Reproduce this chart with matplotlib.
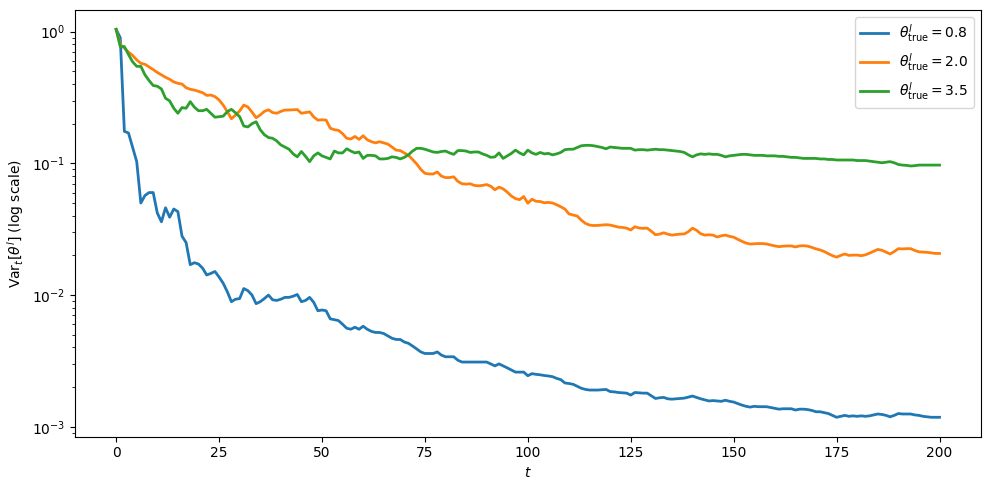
import numpy as np
from matplotlib import pyplot as plt

# 事後分散の推移 (log scale)

t = np.arange(0, 201)

var_08 = [
    1.04, 0.90, 0.175, 0.170, 0.132, 0.103, 0.050, 0.057, 0.060, 0.060,
    0.042, 0.036, 0.046, 0.039, 0.045, 0.043, 0.028, 0.025, 0.0170, 0.0176,
    0.0172, 0.0160, 0.0142, 0.0146, 0.0151, 0.0137, 0.0123, 0.0106, 0.0089, 0.0093,
    0.0094, 0.0112, 0.0108, 0.0100, 0.0086, 0.0089, 0.0094, 0.0100, 0.0092, 0.0091,
    0.0093, 0.0096, 0.0096, 0.0098, 0.0101, 0.0089, 0.0091, 0.0096, 0.0088, 0.0076,
    0.0077, 0.0076, 0.0066, 0.0065, 0.0064, 0.0060, 0.0056, 0.0055, 0.0057, 0.0055,
    0.0058, 0.0055, 0.0053, 0.0052, 0.0052, 0.0051, 0.0049, 0.0047, 0.0046, 0.0046,
    0.0044, 0.0043, 0.0041, 0.0039, 0.0037, 0.0036, 0.0036, 0.0036, 0.0037, 0.0035,
    0.0034, 0.0034, 0.0034, 0.0032, 0.0031, 0.0031, 0.0031, 0.0031, 0.0031, 0.0031,
    0.0031, 0.0030, 0.0029, 0.0030, 0.0029, 0.0028, 0.0027, 0.0026, 0.0026, 0.0026,
    0.00244, 0.00253, 0.00250, 0.00248, 0.00245, 0.00243, 0.00240, 0.00233, 0.00228, 0.00215,
    0.00213, 0.00210, 0.00203, 0.00196, 0.00192, 0.00190, 0.00190, 0.00190, 0.00191, 0.00192,
    0.00185, 0.00184, 0.00182, 0.00181, 0.00180, 0.00174, 0.00182, 0.00181, 0.00180, 0.00180,
    0.00172, 0.00164, 0.00166, 0.00167, 0.00163, 0.00162, 0.00163, 0.00164, 0.00165, 0.00168,
    0.00171, 0.00167, 0.00163, 0.00160, 0.00157, 0.00158, 0.00157, 0.00156, 0.00159, 0.00156,
    0.00154, 0.00150, 0.00146, 0.00143, 0.00141, 0.00143, 0.00142, 0.00142, 0.00142, 0.00140,
    0.00138, 0.00136, 0.00137, 0.00137, 0.00137, 0.00134, 0.00136, 0.00136, 0.00135, 0.00133,
    0.00130, 0.00130, 0.00128, 0.00126, 0.00122, 0.00118, 0.00120, 0.00122, 0.00120, 0.00121,
    0.00120, 0.00121, 0.00120, 0.00121, 0.00123, 0.00125, 0.00124, 0.00122, 0.00119, 0.00122,
    0.00126, 0.00125, 0.00125, 0.00125, 0.00123, 0.00122, 0.00120, 0.00119, 0.00118, 0.00118,
    0.00118,
]

var_20 = [
    1.04, 0.80, 0.75, 0.70, 0.66, 0.61, 0.575, 0.565, 0.54, 0.515,
    0.49, 0.47, 0.45, 0.435, 0.415, 0.405, 0.40, 0.375, 0.365, 0.360,
    0.352, 0.344, 0.328, 0.330, 0.321, 0.303, 0.277, 0.247, 0.218, 0.232,
    0.250, 0.277, 0.268, 0.245, 0.222, 0.233, 0.248, 0.255, 0.243, 0.240,
    0.248, 0.254, 0.254, 0.255, 0.256, 0.240, 0.243, 0.246, 0.225, 0.213,
    0.214, 0.213, 0.185, 0.180, 0.178, 0.168, 0.155, 0.153, 0.160, 0.152,
    0.162, 0.151, 0.146, 0.143, 0.146, 0.143, 0.140, 0.133, 0.126, 0.125,
    0.120, 0.115, 0.107, 0.099, 0.090, 0.084, 0.083, 0.083, 0.086, 0.080,
    0.078, 0.078, 0.079, 0.073, 0.070, 0.0695, 0.070, 0.068, 0.0675, 0.068,
    0.069, 0.067, 0.063, 0.066, 0.064, 0.0605, 0.0565, 0.054, 0.053, 0.056,
    0.0498, 0.0534, 0.0515, 0.0513, 0.0502, 0.0505, 0.0500, 0.0485, 0.0468, 0.0450,
    0.0413, 0.0405, 0.0398, 0.0370, 0.0350, 0.0340, 0.0337, 0.0338, 0.0340, 0.0342,
    0.0340, 0.0334, 0.0328, 0.0326, 0.0322, 0.0312, 0.0330, 0.0323, 0.0321, 0.0322,
    0.0305, 0.0287, 0.0290, 0.0297, 0.0290, 0.0285, 0.0288, 0.0290, 0.0291, 0.0303,
    0.0322, 0.0310, 0.0292, 0.0285, 0.0287, 0.0285, 0.0276, 0.0282, 0.0285, 0.0279,
    0.0275, 0.0265, 0.0256, 0.0248, 0.0244, 0.0245, 0.0246, 0.0246, 0.0244, 0.0240,
    0.0236, 0.0233, 0.0235, 0.0236, 0.0236, 0.0232, 0.0236, 0.0237, 0.0235, 0.0230,
    0.0224, 0.0220, 0.0214, 0.0206, 0.0199, 0.0194, 0.0200, 0.0205, 0.0200, 0.0201,
    0.0201, 0.0199, 0.0202, 0.0208, 0.0215, 0.0222, 0.0219, 0.0212, 0.0205, 0.0214,
    0.0225, 0.0224, 0.0225, 0.0225, 0.0218, 0.0213, 0.0212, 0.0211, 0.0209, 0.0207,
    0.0207,
]

var_35 = [
    1.04, 0.77, 0.77, 0.67, 0.59, 0.545, 0.545, 0.47, 0.425, 0.39,
    0.385, 0.367, 0.312, 0.298, 0.262, 0.240, 0.265, 0.262, 0.294, 0.267,
    0.251, 0.251, 0.257, 0.240, 0.224, 0.226, 0.228, 0.247, 0.257, 0.242,
    0.226, 0.192, 0.189, 0.200, 0.207, 0.180, 0.165, 0.157, 0.155, 0.148,
    0.138, 0.133, 0.128, 0.118, 0.112, 0.123, 0.113, 0.103, 0.114, 0.120,
    0.114, 0.111, 0.108, 0.124, 0.120, 0.120, 0.129, 0.124, 0.120, 0.122,
    0.109, 0.115, 0.115, 0.114, 0.108, 0.108, 0.109, 0.112, 0.111, 0.108,
    0.111, 0.116, 0.124, 0.130, 0.130, 0.128, 0.125, 0.122, 0.121, 0.123,
    0.124, 0.120, 0.117, 0.125, 0.125, 0.124, 0.121, 0.122, 0.122, 0.118,
    0.115, 0.111, 0.112, 0.120, 0.109, 0.114, 0.119, 0.126, 0.120, 0.116,
    0.126, 0.120, 0.117, 0.121, 0.118, 0.119, 0.116, 0.118, 0.121, 0.127,
    0.128, 0.128, 0.132, 0.136, 0.137, 0.137, 0.136, 0.134, 0.132, 0.129,
    0.133, 0.132, 0.131, 0.130, 0.130, 0.130, 0.126, 0.127, 0.127, 0.126,
    0.127, 0.128, 0.127, 0.127, 0.126, 0.125, 0.124, 0.123, 0.121, 0.116,
    0.112, 0.116, 0.118, 0.117, 0.118, 0.117, 0.117, 0.115, 0.112, 0.114,
    0.115, 0.116, 0.117, 0.117, 0.116, 0.115, 0.115, 0.115, 0.114, 0.114,
    0.114, 0.113, 0.113, 0.112, 0.111, 0.111, 0.110, 0.109, 0.109, 0.109,
    0.109, 0.108, 0.108, 0.107, 0.107, 0.106, 0.106, 0.106, 0.106, 0.106,
    0.105, 0.105, 0.105, 0.104, 0.103, 0.102, 0.101, 0.102, 0.103, 0.101,
    0.098, 0.097, 0.0965, 0.0955, 0.096, 0.097, 0.097, 0.097, 0.097, 0.097,
    0.097,
]

labels = [r'$\theta^{l}_{\mathrm{true}} = 0.8$',
          r'$\theta^{l}_{\mathrm{true}} = 2.0$',
          r'$\theta^{l}_{\mathrm{true}} = 3.5$']

fig, ax = plt.subplots(figsize=(9.89, 4.9), dpi=100)
fig.subplots_adjust(left=0.0758, right=0.9916, top=0.9796, bottom=0.1088)

for y, lab in zip([var_08, var_20, var_35], labels):
    ax.plot(t, y, lw=2, label=lab)

ax.set_yscale('log')
ax.set_xlabel(r'$t$')
ax.set_ylabel(r'$\mathrm{Var}_t[\theta^l]$ (log scale)')
ax.legend(loc='upper right')

fig.savefig('out.png', dpi=100)
